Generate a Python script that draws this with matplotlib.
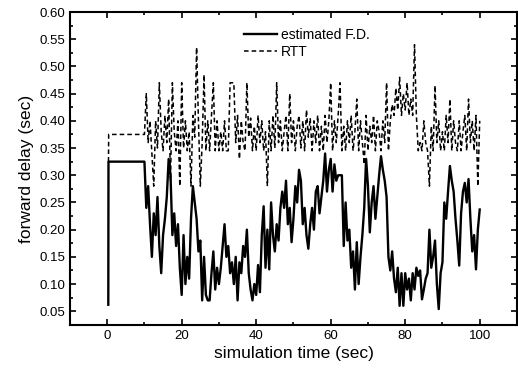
"""
Forward delay estimate vs. measured RTT over a 100 s simulation run.
"""

import numpy as np
import matplotlib
matplotlib.use("Agg")
import matplotlib.pyplot as plt
from matplotlib.ticker import MultipleLocator, FormatStrFormatter

# ---------------------------------------------------------------------
# Data (0.5 s sampling after the 10 s warm-up)
# ---------------------------------------------------------------------

t_start  = [0.3, 0.35, 10.0]
fd_start = [0.062, 0.325, 0.325]

rtt_t_start = [0.35, 0.4, 10.0]
rtt_start   = [0.325, 0.375, 0.375]

t_noisy = np.arange(10.5, 100.01, 0.5)

fd_noisy = [
    # 10.5 - 20.0
    0.24, 0.28, 0.21, 0.15, 0.23, 0.19, 0.26, 0.17, 0.12, 0.19,
    0.22, 0.26, 0.33, 0.30, 0.19, 0.23, 0.17, 0.21, 0.13, 0.08,
    # 20.5 - 30.0
    0.19, 0.10, 0.15, 0.11, 0.22, 0.28, 0.25, 0.22, 0.16, 0.18,
    0.07, 0.15, 0.08, 0.07, 0.07, 0.12, 0.16, 0.09, 0.13, 0.10,
    # 30.5 - 40.0
    0.13, 0.17, 0.21, 0.15, 0.17, 0.12, 0.14, 0.10, 0.15, 0.07,
    0.14, 0.12, 0.17, 0.15, 0.20, 0.12, 0.09, 0.07, 0.10, 0.08,
    # 40.5 - 50.0
    0.135, 0.085, 0.19, 0.243, 0.13, 0.20, 0.127, 0.25, 0.19, 0.16,
    0.21, 0.18, 0.24, 0.27, 0.24, 0.29, 0.21, 0.24, 0.177, 0.22,
    # 50.5 - 60.0
    0.28, 0.25, 0.31, 0.29, 0.21, 0.24, 0.19, 0.165, 0.21, 0.24,
    0.20, 0.27, 0.28, 0.23, 0.26, 0.29, 0.34, 0.27, 0.31, 0.33,
    # 60.5 - 70.0
    0.27, 0.32, 0.29, 0.30, 0.30, 0.30, 0.17, 0.25, 0.18, 0.20,
    0.13, 0.16, 0.09, 0.177, 0.10, 0.15, 0.19, 0.24, 0.33, 0.28,
    # 70.5 - 80.0
    0.195, 0.25, 0.28, 0.22, 0.26, 0.30, 0.335, 0.31, 0.29, 0.26,
    0.15, 0.125, 0.16, 0.11, 0.085, 0.13, 0.06, 0.12, 0.06, 0.12,
    # 80.5 - 90.0
    0.09, 0.11, 0.07, 0.12, 0.09, 0.13, 0.115, 0.125, 0.072, 0.09,
    0.11, 0.12, 0.20, 0.13, 0.15, 0.18, 0.10, 0.054, 0.12, 0.14,
    # 90.5 - 100.0
    0.25, 0.22, 0.27, 0.317, 0.29, 0.27, 0.22, 0.18, 0.134, 0.23,
    0.27, 0.286, 0.25, 0.293, 0.22, 0.16, 0.19, 0.127, 0.20, 0.237,
]

rtt_noisy = [
    # 10.5 - 20.0
    0.45, 0.36, 0.40, 0.34, 0.28, 0.40, 0.35, 0.47, 0.38, 0.345,
    0.41, 0.36, 0.44, 0.29, 0.47, 0.38, 0.345, 0.40, 0.28, 0.47,
    # 20.5 - 30.0
    0.35, 0.40, 0.345, 0.38, 0.28, 0.41, 0.37, 0.535, 0.40, 0.28,
    0.36, 0.485, 0.345, 0.40, 0.345, 0.41, 0.47, 0.345, 0.40, 0.345,
    # 30.5 - 40.0
    0.38, 0.345, 0.40, 0.345, 0.345, 0.47, 0.47, 0.47, 0.36, 0.41,
    0.33, 0.40, 0.36, 0.345, 0.47, 0.37, 0.405, 0.345, 0.39, 0.345,
    # 40.5 - 50.0
    0.41, 0.36, 0.40, 0.345, 0.38, 0.28, 0.40, 0.345, 0.41, 0.35,
    0.47, 0.36, 0.40, 0.345, 0.38, 0.41, 0.345, 0.45, 0.36, 0.40,
    # 50.5 - 60.0
    0.345, 0.39, 0.41, 0.35, 0.40, 0.345, 0.42, 0.37, 0.405, 0.345,
    0.40, 0.36, 0.41, 0.345, 0.39, 0.345, 0.41, 0.36, 0.40, 0.47,
    # 60.5 - 70.0
    0.345, 0.40, 0.36, 0.41, 0.47, 0.345, 0.39, 0.345, 0.40, 0.36,
    0.41, 0.345, 0.38, 0.44, 0.345, 0.40, 0.36, 0.32, 0.41, 0.345,
    # 70.5 - 80.0
    0.39, 0.36, 0.41, 0.345, 0.40, 0.38, 0.345, 0.40, 0.36, 0.47,
    0.345, 0.40, 0.43, 0.41, 0.46, 0.42, 0.48, 0.41, 0.45, 0.42,
    # 80.5 - 90.0
    0.47, 0.41, 0.44, 0.41, 0.54, 0.41, 0.345, 0.36, 0.345, 0.40,
    0.36, 0.345, 0.28, 0.39, 0.345, 0.465, 0.36, 0.40, 0.345, 0.38,
    # 90.5 - 100.0
    0.345, 0.41, 0.36, 0.44, 0.345, 0.40, 0.36, 0.345, 0.40, 0.345,
    0.38, 0.41, 0.345, 0.44, 0.36, 0.40, 0.345, 0.41, 0.28, 0.40,
]

t_fd  = np.concatenate([t_start, t_noisy])
fd    = np.concatenate([fd_start, fd_noisy])
t_rtt = np.concatenate([rtt_t_start, t_noisy])
rtt   = np.concatenate([rtt_start, rtt_noisy])

# ---------------------------------------------------------------------
# Plot
# ---------------------------------------------------------------------

plt.rcParams["font.family"] = ["Liberation Sans", "DejaVu Sans"]

fig = plt.figure(figsize=(5.18, 3.76), dpi=100)
ax = fig.add_axes([0.135, 0.136, 0.863, 0.832])

ax.plot(t_fd, fd, color="black", lw=1.7, label="estimated F.D.")
ax.plot(t_rtt, rtt, color="black", lw=1.1, ls=(0, (3, 2)), label="RTT")

ax.set_xlim(-10, 110)
ax.set_ylim(0.025, 0.60)
ax.xaxis.set_major_locator(MultipleLocator(20))
ax.xaxis.set_minor_locator(MultipleLocator(10))
ax.yaxis.set_major_locator(MultipleLocator(0.05))
ax.yaxis.set_minor_locator(MultipleLocator(0.025))
ax.yaxis.set_major_formatter(FormatStrFormatter("%.2f"))

ax.tick_params(which="both", direction="in", top=True, right=True,
               labelsize=9.5, width=1.2)
ax.tick_params(which="major", length=4)
ax.tick_params(which="minor", length=2)
for sp in ax.spines.values():
    sp.set_linewidth(1.5)

ax.set_xlabel("simulation time (sec)", fontsize=12.5, labelpad=3)
ax.set_ylabel("forward delay (sec)", fontsize=12.5)

ax.legend(loc="upper right", bbox_to_anchor=(0.69, 0.975), frameon=False,
          fontsize=10, handlelength=2.4, handletextpad=0.3,
          labelspacing=0.2, borderaxespad=0.2)

plt.savefig("out.png", dpi=100)
plt.close()
